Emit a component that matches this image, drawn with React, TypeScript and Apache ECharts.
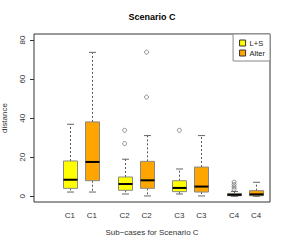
import React, { useEffect, useRef } from "react";
import * as echarts from "echarts";

const positions = [1, 2, 3.5, 4.5, 6, 7, 8.5, 9.5];
const xLabels = ["C1", "C1", "C2", "C2", "C3", "C3", "C4", "C4"];
const lsPositions = [1, 3.5, 6, 8.5];
const alterPositions = [2, 4.5, 7, 9.5];
// [low whisker, Q1, median, Q3, high whisker]
const lsStats = [
  [2.2, 4.1, 8.5, 18.1, 36.9],
  [1.2, 3.1, 6.3, 9.9, 19],
  [1.2, 2.4, 4.3, 8, 14],
  [0, 0.3, 0.8, 1.5, 2.5],
];
const alterStats = [
  [2.2, 8, 17.6, 38.1, 73.7],
  [0.2, 4.1, 8.2, 17.9, 31.1],
  [0.2, 2.2, 5, 15, 31.1],
  [0, 0.3, 1, 2.9, 7.2],
];
const outliers: [number, number][] = [
  [3.5, 33.8], [3.5, 27], [6, 33.8],
  [8.5, 3.6], [8.5, 4.8], [8.5, 6], [8.5, 7.3],
  [4.5, 73.8], [4.5, 50.8],
];
const yTicks = [0, 20, 40, 60, 80];

const FONT = "Liberation Sans";

function renderBox(params: any, api: any) {
  const x = api.value(0);
  const lo = api.coord([x, api.value(1)]);
  const q1 = api.coord([x, api.value(2)]);
  const md = api.coord([x, api.value(3)]);
  const q3 = api.coord([x, api.value(4)]);
  const hi = api.coord([x, api.value(5)]);
  const cx = Math.round(lo[0]) + 0.5;
  const hw = 7;
  const cw = 3.5;
  const color = api.visual("color");
  const dash = { stroke: "#555", lineWidth: 1, lineDash: [2, 2] };
  const solid = { stroke: "#666", lineWidth: 1 };
  return {
    type: "group",
    children: [
      { type: "line", shape: { x1: cx, y1: q3[1], x2: cx, y2: hi[1] }, style: dash },
      { type: "line", shape: { x1: cx, y1: q1[1], x2: cx, y2: lo[1] }, style: dash },
      { type: "line", shape: { x1: cx - cw, y1: hi[1], x2: cx + cw, y2: hi[1] }, style: solid },
      { type: "line", shape: { x1: cx - cw, y1: lo[1], x2: cx + cw, y2: lo[1] }, style: solid },
      {
        type: "rect",
        shape: { x: cx - hw, y: q3[1], width: hw * 2, height: Math.max(1, q1[1] - q3[1]) },
        style: { fill: color, stroke: "#888", lineWidth: 1 },
      },
      { type: "line", shape: { x1: cx - hw, y1: md[1], x2: cx + hw, y2: md[1] }, style: { stroke: "#000", lineWidth: 2 } },
    ],
  };
}

export default function App() {
  const ref = useRef<HTMLDivElement>(null);
  useEffect(() => {
    if (!ref.current) return;
    const chart = echarts.init(ref.current, null, { renderer: "svg" });
    const lsData = lsPositions.map((p, i) => [p, ...lsStats[i]]);
    const alterData = alterPositions.map((p, i) => [p, ...alterStats[i]]);
    chart.setOption({
      animation: false,
      backgroundColor: "#fff",
      textStyle: { fontFamily: FONT },
      grid: {
        left: 34, right: 18, top: 34, bottom: 43,
        outerBoundsMode: "none",
        containLabel: false,
        show: true, borderColor: "#333", borderWidth: 1, backgroundColor: "transparent",
      },
      graphic: [
        {
          type: "text", x: 152, y: 12,
          style: { text: "Scenario C", font: `bold 9px ${FONT}`, fill: "#000", textAlign: "center" },
        },
      ],
      legend: {
        orient: "vertical",
        right: 18, top: 34,
        padding: [5, 5, 4, 6],
        itemGap: 2,
        itemWidth: 6, itemHeight: 6,
        icon: "rect",
        borderColor: "#888", borderWidth: 1, backgroundColor: "#fff",
        textStyle: { fontSize: 7.5, color: "#222", fontFamily: FONT, padding: [0, 0, 0, -1] },
        itemStyle: { borderColor: "#333", borderWidth: 1 },
        data: ["L+S", "Alter"],
      },
      xAxis: {
        type: "value",
        min: -0.64, max: 10.14,
        splitLine: { show: false },
        axisLine: { show: false, onZero: false },
        axisTick: { show: false },
        axisLabel: {
          customValues: positions,
          formatter: (v: number) => {
            const i = positions.indexOf(v);
            return i >= 0 ? xLabels[i] : "";
          },
          fontSize: 8, color: "#333", margin: 9, fontFamily: FONT,
        },
        name: "Sub\u2212cases for Scenario C",
        nameLocation: "middle",
        nameGap: 26,
        nameTextStyle: { fontSize: 8, color: "#333", fontFamily: FONT },
      },
      yAxis: {
        type: "value",
        min: -2.9, max: 83.1,
        splitLine: { show: false },
        axisLine: { show: false, onZero: false },
        axisTick: { show: true, inside: false, customValues: yTicks, length: 4, lineStyle: { color: "#333" } },
        axisLabel: {
          customValues: yTicks, rotate: 90, fontSize: 8, color: "#333", margin: 8, fontFamily: FONT,
        },
        name: "distance",
        nameLocation: "middle",
        nameRotate: 90,
        nameGap: 26,
        nameTextStyle: { fontSize: 8, color: "#333", fontFamily: FONT },
      },
      series: [
        {
          name: "L+S", type: "custom", renderItem: renderBox, data: lsData,
          itemStyle: { color: "#ffff00" }, encode: { x: 0, y: [1, 2, 3, 4, 5] },
        },
        {
          name: "Alter", type: "custom", renderItem: renderBox, data: alterData,
          itemStyle: { color: "#ffa500" }, encode: { x: 0, y: [1, 2, 3, 4, 5] },
        },
        {
          name: "outliers", type: "scatter", data: outliers,
          symbol: "circle", symbolSize: 4,
          itemStyle: { color: "rgba(255,255,255,0)", borderColor: "#555", borderWidth: 0.8 },
        },
      ],
    });
    return () => chart.dispose();
  }, []);
  return <div ref={ref} style={{ width: 288, height: 245, position: "absolute", left: 0, top: 0 }} />;
}
